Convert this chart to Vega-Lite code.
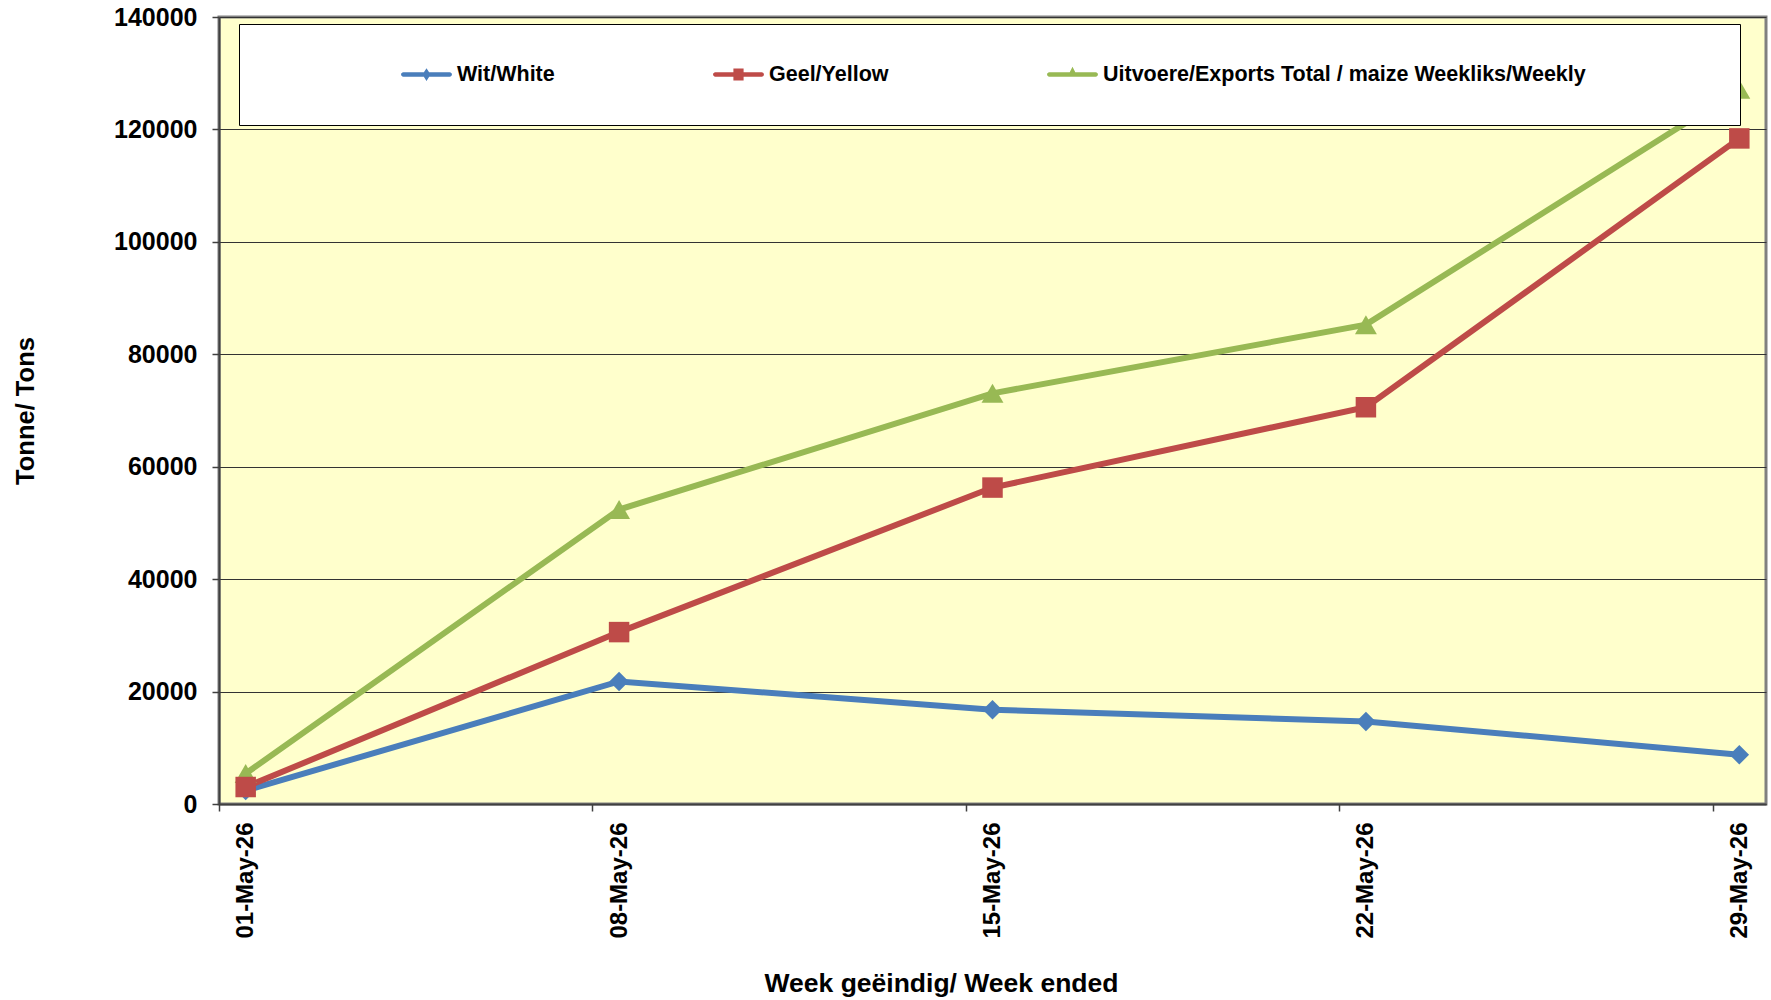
{
  "$schema": "https://vega.github.io/schema/vega-lite/v6.json",
  "width": 1547,
  "height": 787,
  "autosize": {"type": "none"},
  "padding": {"left": 219, "top": 17, "right": 5, "bottom": 196},
  "background": "white",
  "config": {
    "font": "Liberation Sans",
    "view": {"fill": "#FFFFCC", "stroke": "#808080", "strokeWidth": 3}
  },
  "data": {
    "values": [
      {"week": "2026-05-01", "series": "Wit/White", "tons": 2400},
      {"week": "2026-05-08", "series": "Wit/White", "tons": 21800},
      {"week": "2026-05-15", "series": "Wit/White", "tons": 16760},
      {"week": "2026-05-22", "series": "Wit/White", "tons": 14690},
      {"week": "2026-05-29", "series": "Wit/White", "tons": 8760},
      {"week": "2026-05-01", "series": "Uitvoere/Exports Total / maize Weekliks/Weekly", "tons": 5420},
      {"week": "2026-05-08", "series": "Uitvoere/Exports Total / maize Weekliks/Weekly", "tons": 52380},
      {"week": "2026-05-15", "series": "Uitvoere/Exports Total / maize Weekliks/Weekly", "tons": 73050},
      {"week": "2026-05-22", "series": "Uitvoere/Exports Total / maize Weekliks/Weekly", "tons": 85270},
      {"week": "2026-05-29", "series": "Uitvoere/Exports Total / maize Weekliks/Weekly", "tons": 127160},
      {"week": "2026-05-01", "series": "Geel/Yellow", "tons": 3020},
      {"week": "2026-05-08", "series": "Geel/Yellow", "tons": 30580},
      {"week": "2026-05-15", "series": "Geel/Yellow", "tons": 56290},
      {"week": "2026-05-22", "series": "Geel/Yellow", "tons": 70580},
      {"week": "2026-05-29", "series": "Geel/Yellow", "tons": 118400}
    ]
  },
  "encoding": {
    "x": {
      "field": "week",
      "type": "temporal",
      "scale": {
        "type": "utc",
        "nice": false,
        "domain": [
          {"year": 2026, "month": "apr", "date": 30, "hours": 12, "utc": true},
          {"year": 2026, "month": "may", "date": 29, "hours": 12, "utc": true}
        ]
      },
      "axis": {
        "values": [
          {"year": 2026, "month": "may", "date": 1, "utc": true},
          {"year": 2026, "month": "may", "date": 8, "utc": true},
          {"year": 2026, "month": "may", "date": 15, "utc": true},
          {"year": 2026, "month": "may", "date": 22, "utc": true},
          {"year": 2026, "month": "may", "date": 29, "utc": true}
        ],
        "labelExpr": "utcFormat(datum.value, '%d-%b-%y')",
        "grid": false,
        "tickOffset": -26.67,
        "labelOffset": 26.67,
        "tickSize": 7,
        "tickColor": "#404040",
        "tickWidth": 1.5,
        "domainColor": "#404040",
        "domainWidth": 2,
        "labelAngle": 270,
        "labelFont": "Liberation Sans",
        "labelFontSize": 24,
        "labelFontWeight": "bold",
        "labelColor": "black",
        "labelPadding": 11,
        "labelOverlap": false,
        "labelFlush": false,
        "title": "Week geëindig/ Week ended",
        "titleFont": "Liberation Sans",
        "titleFontSize": 26.5,
        "titleFontWeight": "bold",
        "titleColor": "black",
        "titlePadding": 32,
        "titleX": 722
      }
    },
    "y": {
      "field": "tons",
      "type": "quantitative",
      "scale": {"domain": [0, 140000], "nice": false},
      "axis": {
        "values": [0, 20000, 40000, 60000, 80000, 100000, 120000, 140000],
        "format": "d",
        "grid": true,
        "gridColor": "#333333",
        "gridWidth": 1.2,
        "tickSize": 7,
        "tickColor": "#404040",
        "tickWidth": 1.5,
        "domainColor": "#404040",
        "domainWidth": 2,
        "labelFont": "Liberation Sans",
        "labelFontSize": 25,
        "labelFontWeight": "bold",
        "labelColor": "black",
        "labelPadding": 15,
        "title": "Tonne/ Tons",
        "titleFont": "Liberation Sans",
        "titleFontSize": 25.5,
        "titleFontWeight": "bold",
        "titleColor": "black",
        "titlePadding": 75
      }
    },
    "color": {
      "field": "series",
      "type": "nominal",
      "scale": {
        "domain": ["Wit/White", "Geel/Yellow", "Uitvoere/Exports Total / maize Weekliks/Weekly"],
        "range": ["#4A7EBB", "#BE4B48", "#98B954"]
      },
      "legend": {
        "orient": "none",
        "legendX": 20,
        "legendY": 7,
        "direction": "horizontal",
        "title": "\u00a0",
        "titleOrient": "left",
        "titleFontSize": 1,
        "titlePadding": 122,
        "padding": 40,
        "fillColor": "white",
        "strokeColor": "black",
        "columnPadding": 158,
        "symbolSize": 2601,
        "symbolStrokeWidth": 0,
        "symbolStrokeColor": "transparent",
        "symbolOpacity": 1,
        "symbolType": {"expr": "datum.value === 'Wit/White' ? 'M-0.91,-0.088H0.91A0.088,0.088 0 0 1 0.91,0.088H-0.91A0.088,0.088 0 0 1 -0.91,-0.088Z M0,-0.25L0.16,0L0,0.25L-0.16,0Z' : datum.value === 'Geel/Yellow' ? 'M-0.91,-0.088H0.91A0.088,0.088 0 0 1 0.91,0.088H-0.91A0.088,0.088 0 0 1 -0.91,-0.088Z M-0.2,-0.24H0.2V0.24H-0.2Z' : 'M-0.91,-0.088H0.91A0.088,0.088 0 0 1 0.91,0.088H-0.91A0.088,0.088 0 0 1 -0.91,-0.088Z M0,-0.3L0.2,0.088H-0.2Z'"},
        "clipHeight": 21,
        "labelOffset": 5,
        "labelFont": "Liberation Sans",
        "labelFontSize": 21.5,
        "labelFontWeight": "bold",
        "labelColor": "black",
        "labelLimit": 2000,
        "labelExpr": "datum.label === 'Uitvoere/Exports Total / maize Weekliks/Weekly' ? datum.label + '\u00a0\u00a0\u00a0\u00a0\u00a0\u00a0\u00a0\u00a0\u00a0\u00a0\u00a0\u00a0\u00a0\u00a0\u00a0\u00a0\u00a0\u00a0\u00a0\u200b' : datum.label"
      }
    }
  },
  "layer": [
    {"mark": {"type": "line", "strokeWidth": 6}},
    {
      "transform": [{"filter": {"field": "series", "equal": "Wit/White"}}],
      "mark": {"type": "point", "filled": true, "opacity": 1, "shape": "diamond", "size": 380}
    },
    {
      "transform": [{"filter": {"field": "series", "equal": "Uitvoere/Exports Total / maize Weekliks/Weekly"}}],
      "mark": {"type": "point", "filled": true, "opacity": 1, "shape": "triangle-up", "size": 480}
    },
    {
      "transform": [{"filter": {"field": "series", "equal": "Geel/Yellow"}}],
      "mark": {"type": "point", "filled": true, "opacity": 1, "shape": "square", "size": 420}
    }
  ]
}
